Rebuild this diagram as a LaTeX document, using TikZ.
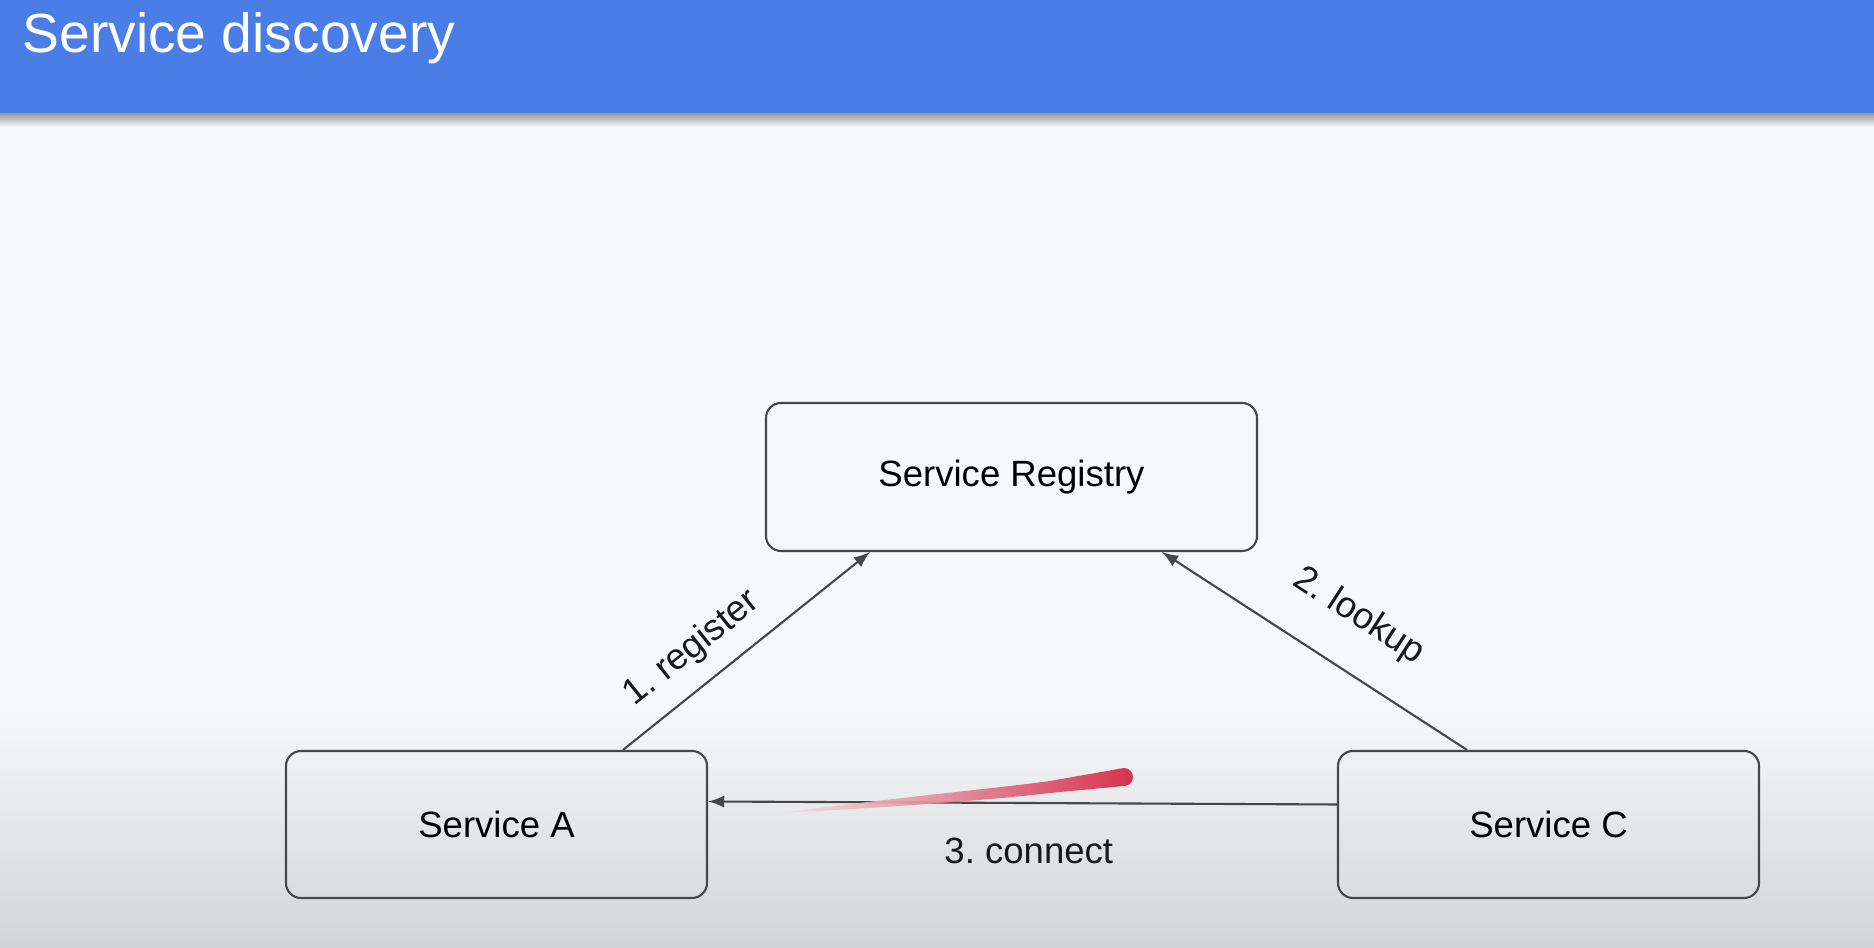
\documentclass[tikz,border=0pt]{standalone}
\usepackage{fontspec}
\setmainfont{Liberation Sans}
\usetikzlibrary{arrows}
\definecolor{headblue}{HTML}{4A7DE6}
\definecolor{slidebg}{HTML}{F7F8FA}
\definecolor{slidelow}{HTML}{D3D4D6}
\definecolor{edgegray}{HTML}{474747}
\definecolor{penred}{HTML}{D5203F}
\definecolor{penpink}{HTML}{F0E2E6}
\frenchspacing

\begin{document}
\begin{tikzpicture}[
    svc/.style={draw=edgegray, line width=0.6pt, rounded corners=1.5mm, minimum width=4.21cm, minimum height=1.47cm, font=\fontsize{10.4}{12}\selectfont},
    conn/.style={-latex, draw=edgegray, line width=0.6pt},
    lbl/.style={font=\fontsize{10.4}{12}\selectfont, text=black!90}
  ]
        \useasboundingbox (0,0) rectangle (18.74,9.48);
        \fill [slidebg] (0,0) rectangle (18.74,8.35);
        \shade [top color=slidebg, bottom color=slidelow] (0,0) rectangle (18.74,2.38);
        \shade [top color=black!40, bottom color=slidebg] (0,8.21) rectangle (18.74,8.35);
        \fill [headblue] (0,8.35) rectangle (18.74,9.48);
        \node [anchor=base west, inner sep=0pt, text=white, font=\fontsize{15.7}{19}\selectfont] (title) at (0.22,8.95) {Service discovery};

        \node [svc, minimum width=4.91cm, minimum height=1.48cm] (registry) at (10.115,4.71) {Service Registry};
        \node [svc] (svca) at (4.965,1.235) {Service A};
        \node [svc] (svcc) at (15.485,1.235) {Service C};

        \draw [conn] ([xshift=12.65mm]svca.north) -- node [lbl, sloped, pos=0.37, above=0.6mm] (reglabel) {1. register} ([xshift=-14.15mm]registry.south);
        \draw [conn] ([xshift=-8.15mm]svcc.north) -- node [lbl, sloped, pos=0.45, above=2.3mm] (looklabel) {2. lookup} ([xshift=15.05mm]registry.south);
        \draw [conn] ([yshift=2mm]svcc.west) -- node [lbl, pos=0.49, below=2.25mm] (connlabel) {3. connect} ([yshift=2.3mm]svca.east);

        \shade [left color=penpink, right color=penred, opacity=0.9] (7.80,1.35) .. controls (9.0,1.51) and (10.0,1.60) .. (10.5,1.67) -- (11.24,1.80) arc [start angle=90, end angle=-80, radius=0.09] -- (10.5,1.55) .. controls (10.0,1.49) and (9.0,1.41) .. cycle;
      \end{tikzpicture}
\end{document}
